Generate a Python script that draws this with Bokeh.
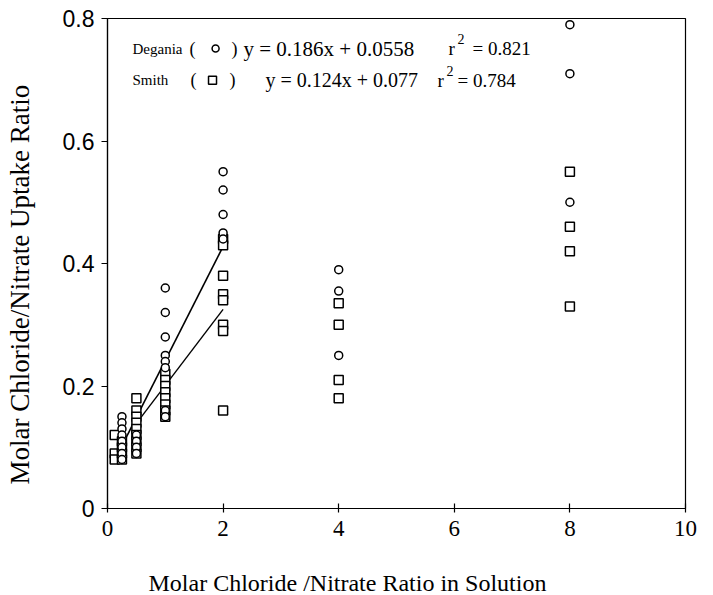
from bokeh.plotting import figure
from bokeh.models import Range1d, FixedTicker, Label, Title
from bokeh.embed import file_html
from bokeh.resources import INLINE

# ---- data ----
deg_x = [0.25]*8 + [0.5]*4 + [1]*8 + [2]*5 + [4]*3 + [8]*3
deg_y = [0.15, 0.14, 0.13, 0.12, 0.11, 0.10, 0.09, 0.08,
         0.12, 0.11, 0.10, 0.09,
         0.36, 0.32, 0.28, 0.25, 0.24, 0.23, 0.16, 0.15,
         0.55, 0.52, 0.48, 0.45, 0.44,
         0.39, 0.355, 0.25,
         0.79, 0.71, 0.50]
smi_x = [0.125]*3 + [0.25]*4 + [0.5]*9 + [1]*8 + [2]*8 + [4]*4 + [8]*4
smi_y = [0.12, 0.09, 0.08,
         0.11, 0.10, 0.09, 0.08,
         0.18, 0.16, 0.15, 0.14, 0.13, 0.12, 0.11, 0.10, 0.09,
         0.22, 0.21, 0.20, 0.19, 0.18, 0.17, 0.16, 0.15,
         0.44, 0.43, 0.38, 0.35, 0.34, 0.30, 0.29, 0.16,
         0.335, 0.30, 0.21, 0.18,
         0.55, 0.46, 0.42, 0.33]
deg_slope, deg_icpt, deg_r2 = 0.186, 0.0558, "0.821"
smi_slope, smi_icpt, smi_r2 = 0.124, 0.077, "0.784"
deg_fit_x = [0.3, 2]
smi_fit_x = [0.5, 2]
x_ticks = [0, 2, 4, 6, 8, 10]
y_ticks = [0, 0.2, 0.4, 0.6, 0.8]
x_title = "Molar Chloride /Nitrate Ratio in Solution"
y_title = "Molar  Chloride/Nitrate Uptake Ratio"

SERIF = "Liberation Serif"
SANS = "Liberation Sans"

p = figure(width=705, height=595, output_backend="svg", toolbar_location=None,
           x_range=Range1d(0, 10), y_range=Range1d(0, 0.8),
           min_border_left=107, min_border_right=20, min_border_top=18,
           min_border_bottom=87)
p.background_fill_color = "white"
p.border_fill_color = "white"
p.outline_line_color = "black"
p.outline_line_width = 1.2
p.xgrid.visible = False
p.ygrid.visible = False

# regression lines
p.line(deg_fit_x, [deg_slope*v + deg_icpt for v in deg_fit_x], line_color="black", line_width=1.6)
p.line(smi_fit_x, [smi_slope*v + smi_icpt for v in smi_fit_x], line_color="black", line_width=1.4)

# points
p.scatter(smi_x, smi_y, marker="square", size=9, fill_color="white",
          line_color="black", line_width=1.5)
p.scatter(deg_x, deg_y, marker="circle", size=8, fill_color="white",
          line_color="black", line_width=1.5)

# axes
for ax in (p.xaxis, p.yaxis):
    ax.axis_line_color = "black"
    ax.axis_line_width = 1.2
    ax.major_tick_line_color = "black"
    ax.major_tick_line_width = 1.2
    ax.minor_tick_line_color = None
    ax.major_label_text_color = "black"

p.xaxis.ticker = FixedTicker(ticks=x_ticks)
p.xaxis.major_tick_in = 5
p.xaxis.major_tick_out = 4
p.xaxis.major_label_standoff = 8
p.xaxis.major_label_text_font = SERIF
p.xaxis.major_label_text_font_size = "23px"

p.yaxis.ticker = FixedTicker(ticks=y_ticks)
p.yaxis.major_tick_in = 0
p.yaxis.major_tick_out = 6
p.yaxis.major_label_standoff = 7
p.yaxis.major_label_text_font = SANS
p.yaxis.major_label_text_font_size = "23px"
p.yaxis.major_label_overrides = {0: "0"}

# axis titles (as side-panel titles so they can be offset like the original)
p.add_layout(Title(text=x_title, align="left", offset=41, standoff=0,
                   padding=dict(left=0, right=0, top=29, bottom=0),
                   text_font=SERIF, text_font_size="24px",
                   text_font_style="normal", text_color="black"), "below")
p.add_layout(Title(text=y_title, align="left", offset=24, standoff=0,
                   padding=dict(left=0, right=0, top=0, bottom=25),
                   text_font=SERIF, text_font_size="27px",
                   text_font_style="normal", text_color="black"), "left")

# legend / equations block
def lab(x, y, t, size="20px"):
    p.add_layout(Label(x=x, y=y, text=t, text_font=SERIF, text_font_size=size,
                       text_color="black", text_baseline="middle", text_align="left"))

row1, row2 = 0.751, 0.699
lab(0.433, row1, "Degania", "15px")
lab(1.42, row1, "(", "18px")
lab(2.145, row1, ")", "18px")
lab(2.353, row1, "y = %.3fx + %.4f" % (deg_slope, deg_icpt), "21px")
lab(5.90, row1, "r", "19px")
lab(6.055, row1 + 0.015, "2", "14px")
lab(6.315, row1, "= " + deg_r2, "19px")

lab(0.433, row2, "Smith", "15px")
lab(1.436, row2, "(", "18px")
lab(2.11, row2, ")", "18px")
lab(2.734, row2, "y = %.3fx + %.3f" % (smi_slope, smi_icpt))
lab(5.71, row2, "r", "19px")
lab(5.865, row2 + 0.015, "2", "14px")
lab(6.055, row2, "= " + smi_r2, "19px")

p.scatter([1.87], [row1], marker="circle", size=7, fill_color="white",
          line_color="black", line_width=1.5)
p.scatter([1.817], [row2], marker="square", size=8, fill_color="white",
          line_color="black", line_width=1.5)

open("out.html", "w").write(file_html(p, INLINE))
